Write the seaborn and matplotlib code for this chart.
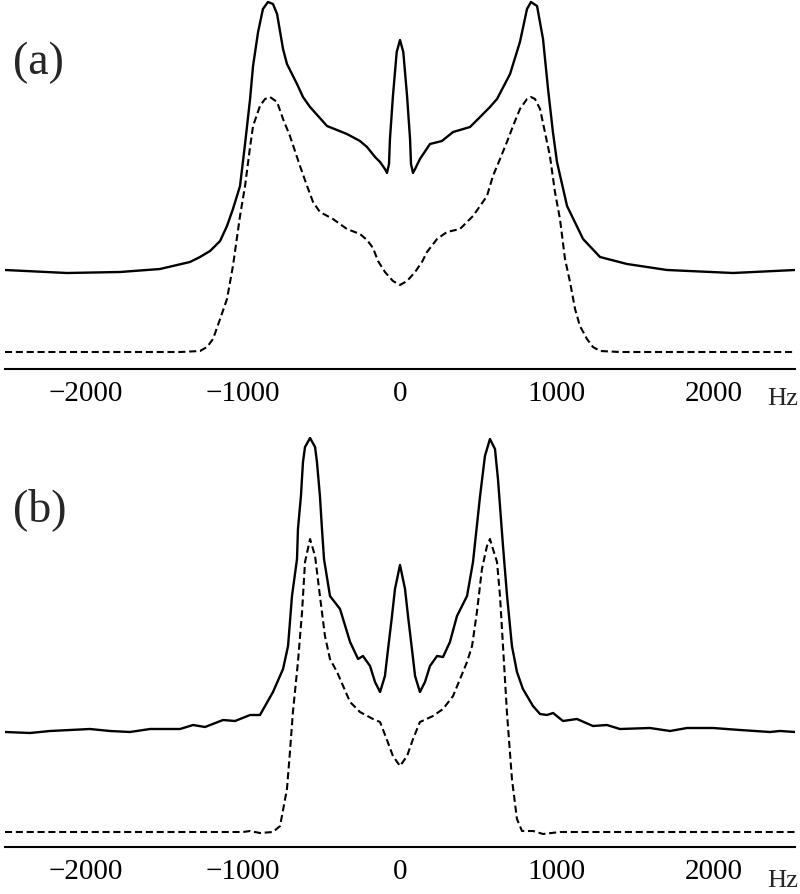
import seaborn as sns
import matplotlib.pyplot as plt
import pandas as pd

# panel (a): frequency (Hz) and intensity (arbitrary units)
hz_a_solid = [-2516, -2121, -1783, -1529, -1338, -1274, -1210, -1146, -1102, -1064, -1019, -987, -955,
              -936, -904, -873, -841, -809, -783, -745, -720, -656, -618, -573, -465, -338, -255, -210,
              -159, -127, -96, -83, -70, -64, -45, -21, 0, 21, 45, 64, 70, 83, 96, 127, 191, 267, 338,
              446, 510, 573, 618, 701, 764, 809, 834, 873, 911, 943, 974, 1000, 1064, 1166, 1274, 1446,
              1701, 2121, 2516]
int_a_solid = [99, 96, 97, 100, 107, 112, 118, 128, 143, 160, 183, 225, 270,
               303, 337, 360, 367, 365, 355, 320, 305, 285, 272, 262, 243, 235, 228, 222,
               212, 207, 200, 196, 205, 230, 273, 317, 329, 317, 273, 230, 205, 196, 200, 210, 225, 228, 237,
               242, 252, 262, 270, 295, 327, 360, 367, 363, 330, 280, 237, 207, 163, 130, 112, 105,
               99, 96, 99]

hz_a_dash = [-2516, -1401, -1274, -1229, -1191, -1146, -1102, -1064, -1019, -987, -955, -936, -892, -860,
             -828, -783, -745, -701, -637, -592, -554, -510, -427, -338, -255, -210, -172, -140, -96,
             -45, 0, 45, 96, 140, 172, 236, 299, 382, 465, 510, 554, 592, 637, 681, 720, 764, 809, 834,
             860, 892, 923, 955, 987, 1019, 1051, 1083, 1115, 1146, 1191, 1229, 1274, 1401, 2516]
int_a_dash = [17, 17, 18, 22, 30, 50, 70, 103, 153, 183, 222, 243, 263, 270,
              272, 267, 250, 233, 203, 183, 167, 157, 150, 140, 135, 129, 121, 108, 97,
              88, 84, 88, 97, 107, 117, 130, 137, 140, 153, 163, 173, 193, 210, 227, 243, 260, 270, 272,
              270, 260, 237, 213, 177, 150, 110, 87, 60, 43, 30, 22, 18, 17, 17]

# panel (b)
hz_b_solid = [-2516, -2357, -2229, -1975, -1847, -1720, -1592, -1401, -1318, -1242, -1127, -1051, -955,
              -892, -809, -745, -713, -688, -656, -650, -631, -618, -605, -573, -541, -529, -510, -497,
              -484, -446, -382, -318, -267, -236, -191, -159, -127, -96, -76, -51, -32, 0, 32, 51, 76,
              96, 127, 159, 191, 236, 274, 318, 363, 395, 427, 465, 510, 541, 573, 605, 624, 656, 682,
              713, 745, 783, 847, 892, 936, 975, 1038, 1127, 1229, 1318, 1401, 1592, 1720, 1828, 1994,
              2166, 2357, 2420, 2516]
int_b_solid = [115, 114, 116, 118, 116, 115, 118, 118, 122, 120, 127, 126, 132,
               132, 155, 178, 201, 251, 288, 318, 351, 385, 400, 409, 400, 385, 351, 318,
               288, 251, 238, 205, 188, 191, 181, 165, 155, 171, 198, 231, 258, 282, 258, 231, 198,
               171, 155, 165, 181, 191, 190, 205, 231, 241, 251, 285, 351, 391, 408, 398, 368, 301, 251,
               201, 175, 158, 141, 133, 132, 134, 126, 128, 121, 122, 118, 119, 116, 119, 119,
               117, 115, 116, 115]

hz_b_dash = [-2516, -1000, -955, -892, -809, -764, -720, -701, -682, -650, -624, -605, -573, -541, -510,
             -478, -446, -401, -318, -255, -172, -127, -83, -45, 0, 45, 83, 127, 210, 274, 338, 427,
             459, 490, 522, 554, 573, 592, 618, 637, 656, 681, 713, 745, 777, 847, 911, 1019, 2516]
int_b_dash = [15, 15, 16, 14, 15, 21, 58, 95, 135, 185, 235, 285, 308, 291, 251,
              211, 188, 175, 145, 135, 128, 125, 107, 91, 81, 91, 108, 125, 131, 138, 151, 185,
              201, 235, 278, 301, 308, 298, 285, 251, 201, 135, 68, 28, 16, 16, 13, 15, 15]

tick_vals = [-2000, -1000, 0, 1000, 2000]
tick_text = ['\u22122000', '\u22121000', '0', '1000', '2000']

sns.set_style("white")
plt.rcParams['font.family'] = ['Liberation Serif', 'DejaVu Serif']

fig = plt.figure(figsize=(8, 8.95), dpi=100)
W, H = 800, 895
ax_a = fig.add_axes([5 / W, (H - 370) / H, 790 / W, 370 / H])
ax_b = fig.add_axes([5 / W, (H - 848) / H, 790 / W, 418 / H])

panels = [
    (ax_a, hz_a_solid, int_a_solid, hz_a_dash, int_a_dash, 370, '(a)', 63, -13),
    (ax_b, hz_b_solid, int_b_solid, hz_b_dash, int_b_dash, 418, '(b)', 510, -16),
]

for ax, xs, ys, xd, yd, top, lab, lab_y, hz_off in panels:
    solid = pd.DataFrame({'hz': xs, 'val': ys})
    dash = pd.DataFrame({'hz': xd, 'val': yd})
    sns.lineplot(data=solid, x='hz', y='val', ax=ax, color='black', lw=1.7, estimator=None)
    sns.lineplot(data=dash, x='hz', y='val', ax=ax, color='black', lw=1.5, estimator=None,
                 linestyle=(0, (3.4, 1.8)))
    ax.set_xlim(-2516, 2516)
    ax.set_ylim(0, top)
    ax.set_facecolor('none')
    for s in ['top', 'left', 'right']:
        ax.spines[s].set_visible(False)
    ax.spines['bottom'].set_linewidth(1.5)
    ax.spines['bottom'].set_color('black')
    ax.set_yticks([])
    ax.set_xticks(tick_vals)
    ax.set_xticklabels(tick_text)
    ax.tick_params(axis='x', direction='in', length=6, width=1.2, labelsize=21, pad=8, colors='black')
    ax.set_xlabel('')
    ax.set_ylabel('')
    fig.text(13 / W, 1 - lab_y / H, lab, fontsize=33, ha='left', va='center')
    ax.annotate('Hz', xy=(1, 0), xycoords='axes fraction', xytext=(-9, hz_off),
                textcoords='offset points', fontsize=19, ha='center', va='top')

fig.savefig('out.png', dpi=100)
